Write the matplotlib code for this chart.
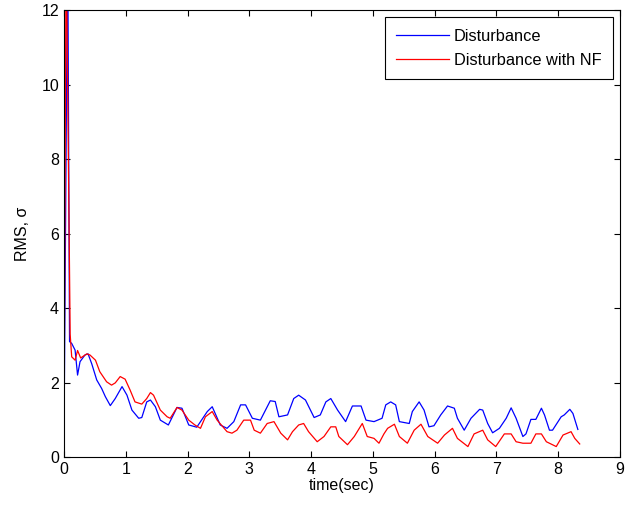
import matplotlib
matplotlib.use("Agg")
import matplotlib.pyplot as plt

plt.rcParams['font.family'] = ['Liberation Sans', 'DejaVu Sans']

# RMS of the disturbance without the filter
t_dist = [0.0, 0.06, 0.09, 0.125, 0.18, 0.22, 0.26, 0.34, 0.39, 0.45, 0.53, 0.61, 0.67,
          0.75, 0.83, 0.94, 1.02, 1.10, 1.21, 1.26, 1.34, 1.40, 1.48, 1.56, 1.69, 1.83,
          1.91, 2.02, 2.15, 2.32, 2.40, 2.53, 2.64, 2.75, 2.86, 2.94, 3.05, 3.18, 3.34,
          3.42, 3.48, 3.62, 3.72, 3.80, 3.91, 4.05, 4.15, 4.24, 4.32, 4.43, 4.56, 4.67,
          4.81, 4.89, 5.02, 5.15, 5.21, 5.29, 5.37, 5.43, 5.59, 5.64, 5.75, 5.83, 5.91,
          5.99, 6.10, 6.21, 6.32, 6.37, 6.48, 6.59, 6.73, 6.78, 6.86, 6.94, 7.05, 7.16,
          7.24, 7.32, 7.43, 7.48, 7.56, 7.64, 7.73, 7.78, 7.86, 7.91, 8.05, 8.10, 8.19,
          8.24, 8.32]
rms_dist = [0.4, 14.0, 3.1, 3.05, 2.87, 2.2, 2.56, 2.74, 2.77, 2.5, 2.07, 1.84, 1.62,
            1.38, 1.57, 1.89, 1.66, 1.26, 1.04, 1.06, 1.48, 1.53, 1.35, 0.99, 0.86, 1.33,
            1.31, 0.86, 0.80, 1.22, 1.35, 0.86, 0.77, 0.95, 1.40, 1.40, 1.04, 0.99, 1.51,
            1.49, 1.08, 1.13, 1.57, 1.66, 1.53, 1.06, 1.13, 1.48, 1.57, 1.26, 0.95, 1.37,
            1.37, 0.99, 0.95, 1.04, 1.40, 1.48, 1.40, 0.95, 0.90, 1.22, 1.48, 1.26, 0.81,
            0.84, 1.13, 1.37, 1.31, 1.04, 0.72, 1.04, 1.28, 1.26, 0.90, 0.65, 0.77, 1.04,
            1.32, 1.04, 0.55, 0.62, 1.01, 1.01, 1.31, 1.13, 0.72, 0.72, 1.08, 1.13, 1.28,
            1.17, 0.74]

# RMS of the disturbance with the notch filter
t_nf = [0.0, 0.035, 0.10, 0.125, 0.18, 0.22, 0.27, 0.37, 0.42, 0.51, 0.58, 0.69, 0.77,
        0.83, 0.91, 0.99, 1.07, 1.15, 1.26, 1.34, 1.40, 1.45, 1.56, 1.67, 1.72, 1.83,
        1.91, 2.02, 2.12, 2.21, 2.29, 2.40, 2.48, 2.64, 2.72, 2.80, 2.91, 3.02, 3.08,
        3.18, 3.29, 3.40, 3.51, 3.62, 3.70, 3.80, 3.88, 3.96, 4.10, 4.21, 4.32, 4.40,
        4.45, 4.59, 4.70, 4.83, 4.91, 5.02, 5.10, 5.18, 5.24, 5.35, 5.43, 5.56, 5.67,
        5.78, 5.89, 6.05, 6.16, 6.29, 6.37, 6.54, 6.64, 6.78, 6.86, 6.99, 7.13, 7.24,
        7.32, 7.43, 7.56, 7.64, 7.73, 7.81, 7.97, 8.08, 8.21, 8.27, 8.35]
rms_nf = [0.7, 14.0, 3.3, 2.69, 2.6, 2.86, 2.66, 2.77, 2.74, 2.6, 2.29, 2.02, 1.93,
          1.99, 2.16, 2.09, 1.80, 1.48, 1.42, 1.57, 1.73, 1.66, 1.26, 1.08, 1.04, 1.33,
          1.26, 0.99, 0.86, 0.77, 1.08, 1.22, 0.99, 0.68, 0.64, 0.72, 0.99, 0.99, 0.72,
          0.64, 0.90, 0.95, 0.64, 0.46, 0.68, 0.86, 0.90, 0.68, 0.41, 0.55, 0.81, 0.81,
          0.55, 0.33, 0.55, 0.90, 0.55, 0.50, 0.37, 0.62, 0.77, 0.88, 0.55, 0.37, 0.72,
          0.88, 0.55, 0.37, 0.59, 0.77, 0.50, 0.28, 0.62, 0.72, 0.46, 0.28, 0.62, 0.62,
          0.41, 0.37, 0.37, 0.62, 0.62, 0.41, 0.28, 0.59, 0.68, 0.50, 0.35]

fig = plt.figure(figsize=(6.43, 5.08), dpi=100)
ax = fig.add_axes([0.0995, 0.1004, 0.8645, 0.8796])

ax.plot(t_dist, rms_dist, color='#0000ff', linewidth=0.9, label='Disturbance')
ax.plot(t_nf, rms_nf, color='#ff0000', linewidth=0.9, label='Disturbance with NF')

ax.set_xlim(0, 9)
ax.set_ylim(0, 12)
ax.set_xticks(range(0, 10))
ax.set_yticks(range(0, 13, 2))
ax.tick_params(direction='in', top=True, right=True, labelsize=11.5, length=4, width=0.8)
ax.set_xlabel('time(sec)', fontsize=11.5, labelpad=1)
ax.set_ylabel('RMS, σ', fontsize=11.5, labelpad=8)
for s in ax.spines.values():
    s.set_linewidth(0.8)

leg = ax.legend(loc='upper right', bbox_to_anchor=(0.987, 0.984), fontsize=11.8,
                fancybox=False, framealpha=1, edgecolor='black', borderpad=0.7,
                handlelength=3.2, handletextpad=0.3, labelspacing=0.55,
                borderaxespad=0.0)
leg.get_frame().set_linewidth(0.8)

fig.savefig('out.png', dpi=100)
